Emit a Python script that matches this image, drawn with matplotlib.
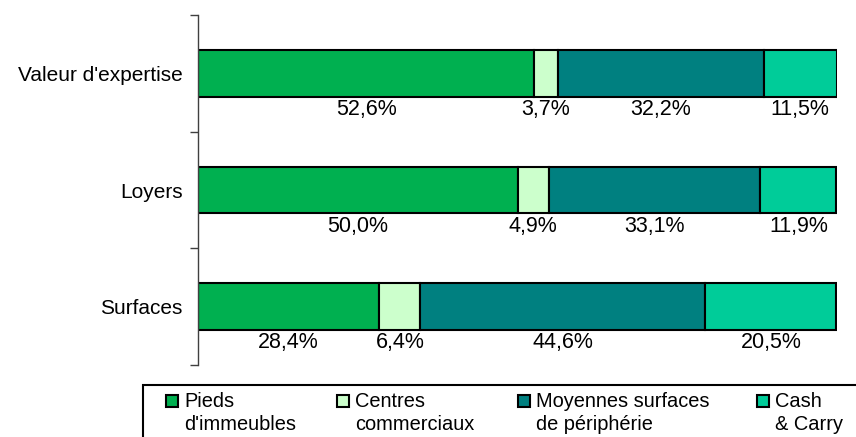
import matplotlib
import matplotlib.pyplot as plt
from matplotlib.patches import Rectangle

matplotlib.use("Agg")

plt.rcParams["font.family"] = ["Liberation Sans", "DejaVu Sans"]

categories = ["Surfaces", "Loyers", "Valeur d'expertise"]
series_names = ["Pieds\nd'immeubles", "Centres\ncommerciaux",
                "Moyennes surfaces\nde périphérie", "Cash\n& Carry"]
pieds = [28.4, 50.0, 52.6]
centres = [6.4, 4.9, 3.7]
moyennes = [44.6, 33.1, 32.2]
cash = [20.5, 11.9, 11.5]

colors = ["#00B050", "#CCFFCC", "#008080", "#00CC99"]

W, H = 856, 437
fig = plt.figure(figsize=(W / 100, H / 100), dpi=100)
ax = fig.add_axes([198 / W, 1 - 365 / H, (837 - 198) / W, 350 / H])

y = list(range(len(categories)))
left = [0.0] * len(categories)
for vals, col in zip([pieds, centres, moyennes, cash], colors):
    ax.barh(y, vals, left=left, height=0.40, color=col,
            edgecolor="black", linewidth=1.5)
    for yi, (l, v) in enumerate(zip(left, vals)):
        ax.text(l + v / 2, yi - 0.31, f"{v:.1f}%".replace(".", ","),
                ha="center", va="center", fontsize=15.5)
    left = [a + b for a, b in zip(left, vals)]

ax.set_xlim(0, 100)
ax.set_ylim(-0.5, len(categories) - 0.5)
ax.set_yticks(y)
ax.set_yticklabels(categories, fontsize=15)
ax.tick_params(axis="y", which="major", length=0, pad=11)
ax.set_yticks([-0.5, 0.5, 1.5, 2.5], minor=True)
ax.tick_params(axis="y", which="minor", length=6, width=1, color="#404040")
ax.set_xticks([])
for s in ["top", "right", "bottom"]:
    ax.spines[s].set_visible(False)
ax.spines["left"].set_color("#404040")
ax.spines["left"].set_linewidth(1)

# legend box, running off the right and bottom edges
fig.patches.append(Rectangle((143 / W, -0.1), 1.0, 0.1 + (H - 385) / H,
                             transform=fig.transFigure, fill=False,
                             edgecolor="black", linewidth=1.5, clip_on=False))
marker_x = [166, 337, 518, 757]
for mx, name, col in zip(marker_x, series_names, colors):
    fig.patches.append(Rectangle((mx / W, 1 - 407 / H), 12 / W, 12 / H,
                                 transform=fig.transFigure, facecolor=col,
                                 edgecolor="black", linewidth=1.5))
    fig.text((mx + 18) / W, 1 - 392 / H, name, fontsize=14.4, va="top",
             ha="left", linespacing=1.25)

fig.savefig("out.png", dpi=100)
